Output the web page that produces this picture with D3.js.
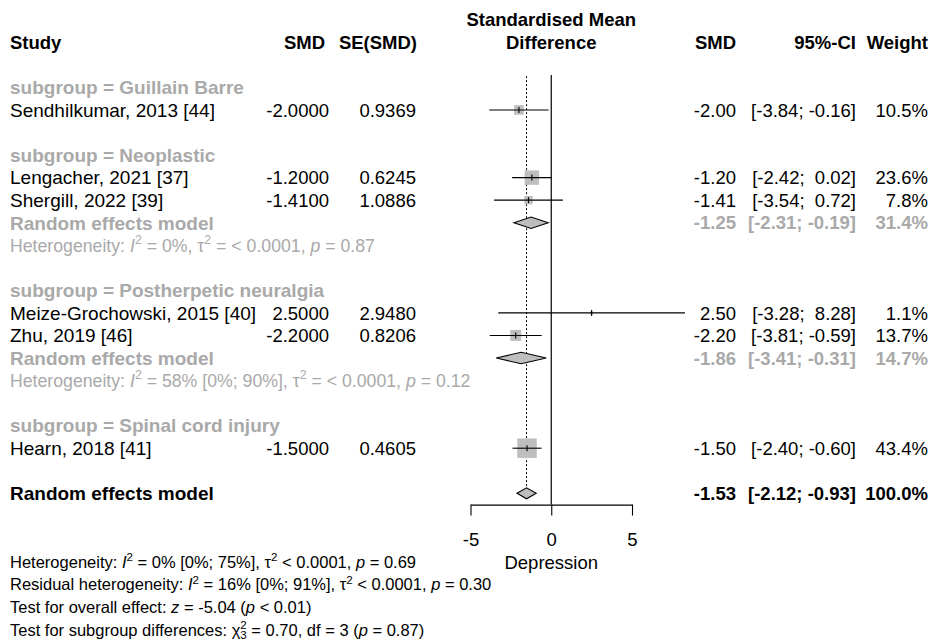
<!DOCTYPE html>
<html>
<head>
<meta charset="utf-8">
<script src="https://cdn.jsdelivr.net/npm/d3@7"></script>
<style>
  body { margin: 0; background: #fff; }
  svg text { font-family: "Liberation Sans", Arial, sans-serif; white-space: pre; }
</style>
</head>
<body>
<div id="chart"></div>
<script>
// ---- data ----
const studyNames  = ['Sendhilkumar, 2013 [44]', 'Lengacher, 2021 [37]', 'Shergill, 2022 [39]',
                     'Meize-Grochowski, 2015 [40]', 'Zhu, 2019 [46]', 'Hearn, 2018 [41]'];
const studyGroups = ['Guillain Barre', 'Neoplastic', 'Neoplastic',
                     'Postherpetic neuralgia', 'Postherpetic neuralgia', 'Spinal cord injury'];
const smdValues   = [-2.00, -1.20, -1.41, 2.50, -2.20, -1.50];
const seValues    = [0.9369, 0.6245, 1.0886, 2.9480, 0.8206, 0.4605];
const ciLower     = [-3.84, -2.42, -3.54, -3.28, -3.81, -2.40];
const ciUpper     = [-0.16, 0.02, 0.72, 8.28, -0.59, -0.60];
const weights     = [10.5, 23.6, 7.8, 1.1, 13.7, 43.4];

const subgroups   = ['Guillain Barre', 'Neoplastic', 'Postherpetic neuralgia', 'Spinal cord injury'];

const pooledGroups = ['Neoplastic', 'Postherpetic neuralgia'];
const pooledSmd    = [-1.25, -1.86];
const pooledLower  = [-2.31, -3.41];
const pooledUpper  = [-0.19, -0.31];
const pooledWeight = [31.4, 14.7];
const pooledHet    = [
  [['Heterogeneity: '], ['I', 'i'], ['2', 'sup'], [' = 0%, \u03c4'], ['2', 'sup'], [' = < 0.0001, '], ['p', 'i'], [' = 0.87']],
  [['Heterogeneity: '], ['I', 'i'], ['2', 'sup'], [' = 58% [0%; 90%], \u03c4'], ['2', 'sup'], [' = < 0.0001, '], ['p', 'i'], [' = 0.12']]
];

const overallSmd = -1.53, overallLower = -2.12, overallUpper = -0.93, overallWeight = 100.0;

const xTicks = [-5, 0, 5];

const bottomStats = [
  [['Heterogeneity: '], ['I', 'i'], ['2', 'sup'], [' = 0% [0%; 75%], \u03c4'], ['2', 'sup'], [' < 0.0001, '], ['p', 'i'], [' = 0.69']],
  [['Residual heterogeneity: '], ['I', 'i'], ['2', 'sup'], [' = 16% [0%; 91%], \u03c4'], ['2', 'sup'], [' < 0.0001, '], ['p', 'i'], [' = 0.30']],
  [['Test for overall effect: '], ['z', 'i'], [' = -5.04 ('], ['p', 'i'], [' < 0.01)']],
  [['Test for subgroup differences: \u03c7'], ['2', 'sup'], ['3', 'sub'], [' = 0.70, df = 3 ('], ['p', 'i'], [' = 0.87)']]
];

// ---- layout ----
const W = 940, H = 641;
const FS = 18.5, FS_LABEL = 19, FS_HET = 17.7, FS_SMALL = 16.5;
const GREY = '#a9a9a9', BOX = '#bebebe';

const svg = d3.select('#chart').append('svg').attr('width', W).attr('height', H);

const x = d3.scaleLinear().domain([-5, 5]).range([470.5, 632]);
const y = d3.scaleLinear().domain([0, 18]).range([87.4, 493.3]);
const boxSize = d3.scaleSqrt().domain([0, 43.4]).range([0, 19.5]);

const col = { study: 10, smd: 329, se: 416, smdR: 736, ci: 856, weight: 928 };

const f2 = d3.format('.2f'), f4 = d3.format('.4f');
const fmt = (v, f) => f(v).replace('\u2212', '-');
const ciText = (lo, hi) => {
  const a = fmt(lo, f2), b = fmt(hi, f2);
  return '[' + a + '; ' + (hi < 0 ? '' : ' ') + b + ']';
};

function addText(txt, xx, yy, opts = {}) {
  return svg.append('text')
    .attr('x', xx).attr('y', yy + (opts.size || FS) * 0.36)
    .attr('text-anchor', opts.anchor || 'start')
    .attr('font-size', opts.size || FS)
    .attr('font-weight', opts.bold ? 'bold' : null)
    .attr('fill', opts.color || '#000')
    .text(txt);
}

// text with italic / superscript / subscript pieces, offsets tracked per tspan
function richText(parts, xx, yy, size, color) {
  const t = svg.append('text')
    .attr('x', xx).attr('y', yy + size * 0.36)
    .attr('font-size', size).attr('fill', color);
  const small = size * 0.7;
  let cur = 0, lastSupW = 0;
  parts.forEach(([s, style]) => {
    let target = 0;
    const sp = t.append('tspan');
    if (style === 'sup') { target = -size * 0.42; sp.attr('font-size', small); lastSupW = small * 0.556; }
    else if (style === 'sub') { target = size * 0.22; sp.attr('font-size', small).attr('dx', -lastSupW); }
    else if (style === 'i') sp.attr('font-style', 'italic');
    if (target !== cur) sp.attr('dy', target - cur);
    cur = target;
    sp.text(s);
  });
  return t;
}

// ---- build rows ----
const rows = [];
let r = 0;
subgroups.forEach(g => {
  rows.push({ type: 'label', i: r++, label: 'subgroup = ' + g });
  studyNames.forEach((n, k) => {
    if (studyGroups[k] === g) rows.push({ type: 'study', i: r++, k });
  });
  const p = pooledGroups.indexOf(g);
  if (p >= 0) {
    rows.push({ type: 'pooled', i: r++, p });
    rows.push({ type: 'het', i: r++, p });
  }
  r++;
});
const overallRow = r;

// ---- headers ----
addText('Standardised Mean', x(0), y(-3), { bold: true, anchor: 'middle' });
addText('Difference', x(0), y(-2), { bold: true, anchor: 'middle' });
addText('Study', col.study, y(-2), { bold: true });
addText('SMD', col.smd - 4, y(-2), { bold: true, anchor: 'end' });
addText('SE(SMD)', col.se + 1, y(-2), { bold: true, anchor: 'end' });
addText('SMD', col.smdR, y(-2), { bold: true, anchor: 'end' });
addText('95%-CI', col.ci, y(-2), { bold: true, anchor: 'end' });
addText('Weight', col.weight, y(-2), { bold: true, anchor: 'end' });

// ---- reference lines ----
svg.append('line')
  .attr('x1', x(0)).attr('x2', x(0))
  .attr('y1', y(-0.55)).attr('y2', y(18.5))
  .attr('stroke', '#000').attr('stroke-width', 1.2);

svg.append('line')
  .attr('x1', x(overallSmd)).attr('x2', x(overallSmd))
  .attr('y1', y(-0.5)).attr('y2', y(overallRow) - 5.5)
  .attr('stroke', '#000').attr('stroke-width', 1)
  .attr('stroke-dasharray', '2,2');

// ---- rows ----
const diamond = (est, lo, hi, yy, h) =>
  `M${x(lo)},${yy}L${x(est)},${yy - h}L${x(hi)},${yy}L${x(est)},${yy + h}Z`;

rows.forEach(row => {
  const yy = y(row.i);
  if (row.type === 'label') {
    addText(row.label, col.study, yy, { bold: true, color: GREY, size: FS_LABEL });
  } else if (row.type === 'study') {
    const k = row.k;
    addText(studyNames[k], col.study, yy, { size: FS_LABEL });
    addText(fmt(smdValues[k], f4), col.smd, yy, { anchor: 'end' });
    addText(fmt(seValues[k], f4), col.se, yy, { anchor: 'end' });
    addText(fmt(smdValues[k], f2), col.smdR, yy, { anchor: 'end' });
    addText(ciText(ciLower[k], ciUpper[k]), col.ci, yy, { anchor: 'end' });
    addText(weights[k].toFixed(1) + '%', col.weight, yy, { anchor: 'end' });

    const s = boxSize(weights[k]);
    svg.append('rect')
      .attr('x', x(smdValues[k]) - s / 2).attr('y', yy - s / 2)
      .attr('width', s).attr('height', s)
      .attr('fill', BOX);
    svg.append('line')
      .attr('x1', x(ciLower[k])).attr('x2', x(ciUpper[k]))
      .attr('y1', yy).attr('y2', yy)
      .attr('stroke', '#000').attr('stroke-width', 1.1);
    svg.append('line')
      .attr('x1', x(smdValues[k])).attr('x2', x(smdValues[k]))
      .attr('y1', yy - 3).attr('y2', yy + 3)
      .attr('stroke', '#000').attr('stroke-width', 1.1);
  } else if (row.type === 'pooled') {
    const p = row.p;
    addText('Random effects model', col.study, yy, { bold: true, color: GREY, size: FS_LABEL });
    addText(fmt(pooledSmd[p], f2), col.smdR, yy, { bold: true, anchor: 'end', color: GREY });
    addText(ciText(pooledLower[p], pooledUpper[p]), col.ci, yy, { bold: true, anchor: 'end', color: GREY });
    addText(pooledWeight[p].toFixed(1) + '%', col.weight, yy, { bold: true, anchor: 'end', color: GREY });
    svg.append('path')
      .attr('d', diamond(pooledSmd[p], pooledLower[p], pooledUpper[p], yy, 5.7))
      .attr('fill', BOX).attr('stroke', '#000').attr('stroke-width', 1.1);
  } else if (row.type === 'het') {
    richText(pooledHet[row.p], col.study, yy, FS_HET, GREY);
  }
});

// ---- overall ----
const yo = y(overallRow);
addText('Random effects model', col.study, yo, { bold: true, size: FS_LABEL });
addText(fmt(overallSmd, f2), col.smdR, yo, { bold: true, anchor: 'end' });
addText(ciText(overallLower, overallUpper), col.ci, yo, { bold: true, anchor: 'end' });
addText(overallWeight.toFixed(1) + '%', col.weight, yo, { bold: true, anchor: 'end' });
svg.append('path')
  .attr('d', diamond(overallSmd, overallLower, overallUpper, yo, 5.5))
  .attr('fill', BOX).attr('stroke', '#000').attr('stroke-width', 1.1);

// ---- axis ----
const axisG = svg.append('g')
  .attr('transform', `translate(0,${y(18.5)})`)
  .call(d3.axisBottom(x).tickValues(xTicks).tickSize(11).tickSizeOuter(0).tickPadding(17)
    .tickFormat(d => String(d)));
axisG.select('.domain').attr('stroke', '#000').attr('stroke-width', 1.1);
axisG.selectAll('.tick line').attr('stroke', '#000').attr('stroke-width', 1.1);
axisG.selectAll('.tick text')
  .attr('font-size', FS).attr('fill', '#000')
  .attr('font-family', '"Liberation Sans", Arial, sans-serif');

addText('Depression', x(0), y(21) + 1.5, { anchor: 'middle' });

// ---- bottom statistics ----
bottomStats.forEach((parts, j) => {
  richText(parts, col.study, y(21 + j) + 1, FS_SMALL, '#000');
});
</script>
</body>
</html>
